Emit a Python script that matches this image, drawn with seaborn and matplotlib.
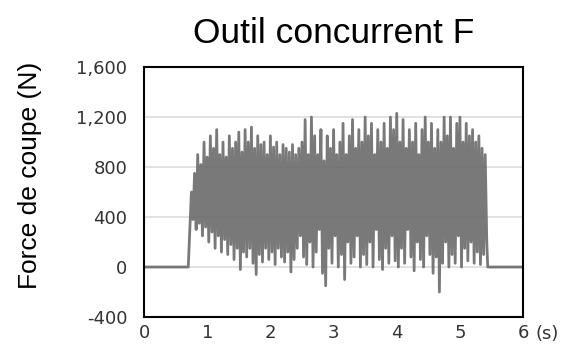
import numpy as np
import pandas as pd
import seaborn as sns
import matplotlib.pyplot as plt

t_start = 0.75
step = 0.05

peaks = [
    600, 750, 900, 820, 1000, 880, 1050, 950, 1100, 900,
    1000, 880, 1050, 950, 1000, 1080, 920, 1100, 1000, 1120,
    950, 1050, 980, 1000, 900, 1050, 960, 1000, 900, 980,
    950, 920, 980, 900,
    950, 1000, 1180, 900, 1200, 1050, 900, 1100, 850, 1050,
    950, 1100, 900, 1000, 1150, 900, 1050, 1180, 950, 1100,
    1000, 1200, 1050, 1150, 900, 1100, 1000, 1150, 950, 1200,
    1100, 1230, 1000, 1180, 950, 1100, 1000, 1150, 900, 1100,
    1200, 1000, 1150, 950, 1100, 1000, 1200, 1050, 1200, 950,
    1150, 1200, 1000, 1150, 1050, 1100, 1000, 1050, 950, 900,
]
troughs = [
    380, 300, 350, 250, 320, 200, 280, 150, 250, 120,
    220, 100, 180, 60, 150, -20, 120, 80, 150, 30,
    -60, 100, 40, 150, 60, 120, 20, 150, 80, 40,
    120, -40, 60, 150,
    250, 80, 20, 200, 0, 120, 300, -50, -150, 150,
    30, 250, 0, 100, -100, 200, 30, 80, 250, 0,
    100, 20, 200, 0, 300, 60, -20, 150, 30, 250,
    50, 0, 150, 30, 300, 80, -30, 200, 60, 0,
    250, 100, -50, 80, -200, 30, 200, 0, 100, 30,
    250, 0, 150, 50, 200, 30, 120, 20, 100, 200,
]

# idle parts before and after the cut
idle_before_t = [0.0, 0.70]
idle_after_t = [5.44, 6.0]

t_peak = t_start + step * np.arange(len(peaks))
t_trough = t_peak + step / 2
t_cut = np.column_stack([t_peak, t_trough]).ravel()
f_cut = np.column_stack([peaks, troughs]).ravel()

df = pd.DataFrame({
    "t": np.concatenate([idle_before_t, t_cut, idle_after_t]),
    "force": np.concatenate([[0, 0], f_cut, [0, 0]]),
})

sns.set_style("white")
plt.rcParams["font.family"] = ["Liberation Sans", "DejaVu Sans"]

fig = plt.figure(figsize=(5.77, 3.55), dpi=100)
ax = fig.add_axes([0.2496, 0.107, 0.657, 0.704])

for y in [0, 400, 800, 1200]:
    ax.axhline(y, color="#e2e2e2", lw=1.4, zorder=0)

sns.lineplot(data=df, x="t", y="force", ax=ax, sort=False, estimator=None,
             color="#6a6a6a", lw=2.0, alpha=0.9)

ax.set_xlim(0, 6)
ax.set_ylim(-400, 1600)
ax.set_xticks(range(0, 7))
ax.set_yticks([-400, 0, 400, 800, 1200, 1600])
ax.set_yticklabels(["-400", "0", "400", "800", "1,200", "1,600"])

tick_family = ["DejaVu Sans"]
for lab in ax.get_xticklabels() + ax.get_yticklabels():
    lab.set_fontfamily(tick_family)
    lab.set_fontsize(13)
    lab.set_color("#333333")

ax.tick_params(axis="x", direction="in", length=4, width=1, color="#555555", pad=5)
ax.tick_params(axis="y", length=0, pad=12)

for s in ax.spines.values():
    s.set_visible(True)
    s.set_color("black")
    s.set_linewidth(1.5)

ax.set_xlabel("")
ax.set_ylabel("Force de coupe (N)", fontsize=19, color="black")
ax.yaxis.set_label_coords(-0.27, 0.565)
ax.set_title("Outil concurrent F", fontsize=25.5, pad=17, color="black")

ax.annotate("(s)", xy=(6, 0), xycoords=("data", "axes fraction"),
            xytext=(9, -6), textcoords="offset points",
            ha="left", va="top", fontsize=13, color="#333333",
            family=tick_family)

fig.savefig("out.png", dpi=100)
